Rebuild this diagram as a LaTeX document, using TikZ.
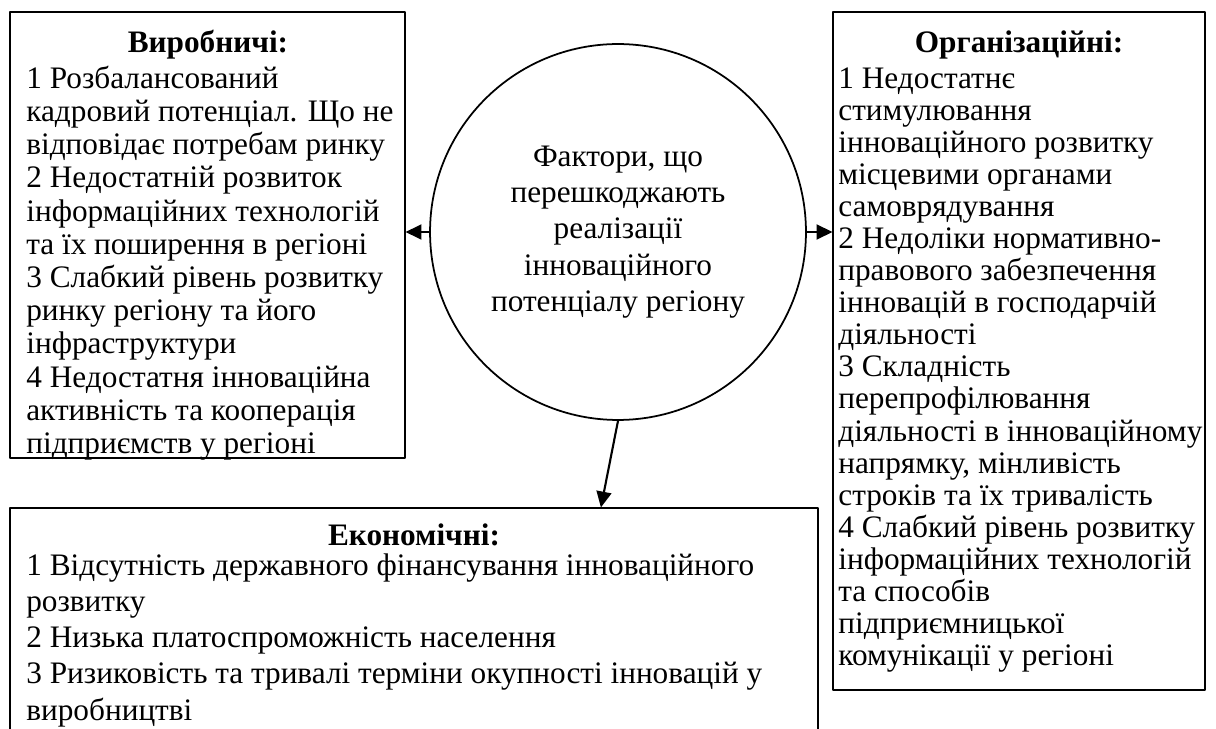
\documentclass[tikz,border=0pt]{standalone}
\usepackage{fontspec}
\setmainfont{Liberation Serif}
\usetikzlibrary{arrows, arrows.meta, calc, positioning}

\begin{document}
\begin{tikzpicture}[line cap=round,line join=round,>={Triangle[length=9pt,width=8.5pt]},x=0.02cm,y=-0.02cm,
  every node/.style={font=\fontsize{17.8}{20.6}\selectfont, inner sep=0pt},
  factbox/.style={draw, line width=0.7pt, rectangle},
  headtext/.style={font=\fontsize{17.8}{20.6}\selectfont\bfseries, anchor=base},
  listtext/.style={anchor=north west, align=left, font=\fontsize{17.8}{#1}\selectfont}]
% --- рамка малюнка ---
\useasboundingbox (0,0) rectangle (1216,729);
\clip (0,0) rectangle (1216,729);

% --- центральне коло ---
\node (fact) [circle, draw, line width=1pt, minimum size=7.52cm, align=center] at (618,232)
  {Фактори, що\\перешкоджають\\реалізації\\інноваційного\\потенціалу регіону};

% --- блоки факторів ---
\node (prod) [factbox, minimum width=7.9cm, minimum height=8.92cm] at (207.5,235) {};
\node (org) [factbox, minimum width=7.44cm, minimum height=13.56cm] at (1019,351) {};
\node (econ) [factbox, minimum width=16.16cm, minimum height=5.44cm] at (414,644) {};

% --- стрілки від кола ---
\draw [->, line width=1.2pt] (fact.west) -- (fact.west -| prod.east);
\draw [->, line width=1.2pt] (fact.east) -- (fact.east -| org.west);
\draw [->, line width=1.2pt] (fact.south) -- ($(econ.north west)!0.731!(econ.north east)$);

% --- виробничі ---
\node (prodhead) [headtext] at (208,53) {Виробничі:};
\node (prodlist) [listtext=18.9pt] at (26,64.7) {\strut 1 Розбалансований\\
кадровий потенціал. Що не\\
відповідає потребам ринку\\
2 Недостатній розвиток\\
інформаційних технологій\\
та їх поширення в регіоні\\
3 Слабкий рівень розвитку\\
ринку регіону та його\\
інфраструктури\\
4 Недостатня інноваційна\\
активність та кооперація\\
підприємств у регіоні};

% --- організаційні ---
\node (orghead) [headtext] at (1019,53) {Організаційні:};
\node (orglist) [listtext=18.25pt] at (838,65.5) {\strut 1 Недостатнє\\
стимулювання\\
інноваційного розвитку\\
місцевими органами\\
самоврядування\\
2 Недоліки нормативно-\\
правового забезпечення\\
інновацій в господарчій\\
діяльності\\
3 Складність\\
перепрофілювання\\
діяльності в інноваційному\\
напрямку, мінливість\\
строків та їх тривалість\\
4 Слабкий рівень розвитку\\
інформаційних технологій\\
та способів\\
підприємницької\\
комунікації у регіоні};

% --- економічні ---
\node (econhead) [headtext] at (414,545) {Економічні:};
\node (econlist) [listtext=20.6pt] at (26,549.7) {\strut 1 Відсутність державного фінансування інноваційного\\
розвитку\\
2 Низька платоспроможність населення\\
3 Ризиковість та тривалі терміни окупності інновацій у\\
виробництві};

\end{tikzpicture}
\end{document}
